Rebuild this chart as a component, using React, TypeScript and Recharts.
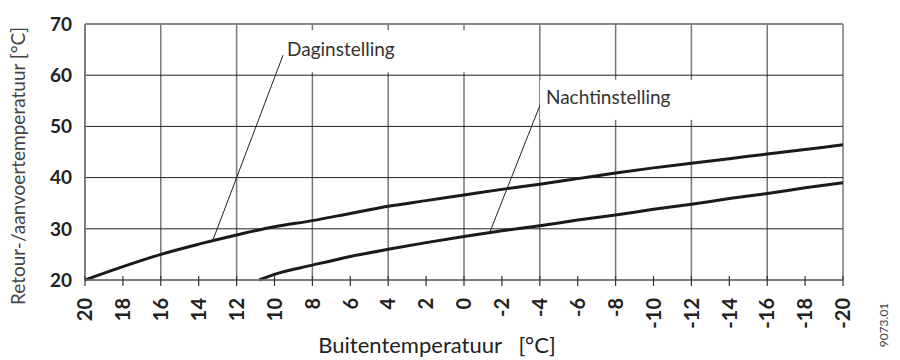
import React from 'react';
import {
  LineChart,
  Line,
  XAxis,
  YAxis,
  CartesianGrid,
  ReferenceLine,
} from 'recharts';

// buitentemperatuur (°C), van +20 naar -20
const buitenTemps = [20, 18, 16, 14, 12, 10, 8, 6, 4, 2, 0, -2, -4, -6, -8, -10, -12, -14, -16, -18, -20];
const dagWaarden = [20, 22.6, 25.0, 27.0, 28.8, 30.4, 31.6, 33.0, 34.4, 35.5, 36.6, 37.7, 38.7, 39.8, 40.9, 41.9, 42.8, 43.7, 44.6, 45.5, 46.4];

const nachtTemps = [10.8, 10, 8, 6, 4, 2, 0, -2, -4, -6, -8, -10, -12, -14, -16, -18, -20];
const nachtWaarden = [20, 21.1, 22.9, 24.6, 26.0, 27.3, 28.5, 29.6, 30.6, 31.7, 32.7, 33.8, 34.8, 35.9, 36.9, 38.0, 39.0];

const yTicks = [20, 30, 40, 50, 60, 70];
const rasterX = [20, 16, 12, 8, 4, 0, -4, -8, -12, -16, -20];

const dagData = buitenTemps.map((t, i) => ({ t, v: dagWaarden[i] }));
const nachtData = nachtTemps.map((t, i) => ({ t, v: nachtWaarden[i] }));

const FONT = 'Lato, "Open Sans", sans-serif';

const XTick = (props: any) => {
  const { x, y, payload } = props;
  return (
    <g>
      <line x1={x} x2={x} y1={y - 4} y2={y + 6} stroke="#333" strokeWidth={1.2} />
      <text
        x={0}
        y={0}
        transform={`translate(${x},${y + 18}) rotate(-90)`}
        textAnchor="end"
        dy="0.36em"
        fontFamily={FONT}
        fontWeight={700}
        fontSize={20}
        fill="#222"
      >
        {payload.value}
      </text>
    </g>
  );
};

// label met witte achtergrond, aan het bovenste eind van de wijslijn
const leaderLabel = (text: string, box: { dx: number; dy: number; w: number; h: number }, tx: number, ty: number) =>
  (props: any) => {
    const vb = props.viewBox;
    const ax = vb.x + vb.width;
    const ay = vb.y;
    return (
      <g>
        <rect x={ax + box.dx} y={ay + box.dy} width={box.w} height={box.h} fill="#fff" />
        <text x={ax + tx} y={ay + ty} fontFamily={FONT} fontSize={19} fill="#333">
          {text}
        </text>
      </g>
    );
  };

export default function App() {
  return (
    <div style={{ position: 'absolute', left: 0, top: 0, width: 900, height: 360, background: '#fff' }}>
      <LineChart width={900} height={360} margin={{ top: 24, right: 57, left: 0, bottom: 0 }}>
        <CartesianGrid horizontal={false} verticalValues={rasterX} stroke="#777" strokeWidth={1.5} />
        <CartesianGrid vertical={false} horizontalValues={yTicks} stroke="#222" strokeWidth={1} />
        <XAxis
          dataKey="t"
          type="number"
          domain={[-20, 20]}
          reversed
          ticks={buitenTemps}
          interval={0}
          allowDataOverflow
          height={80}
          tickSize={0}
          tickMargin={0}
          tickLine={false}
          axisLine={{ stroke: '#777', strokeWidth: 1.5 }}
          tick={<XTick />}
        />
        <YAxis
          type="number"
          domain={[20, 70]}
          ticks={yTicks}
          interval={0}
          width={85}
          tickSize={0}
          tickMargin={13}
          tickLine={false}
          axisLine={{ stroke: '#777', strokeWidth: 1.5 }}
          tick={{ fontFamily: FONT, fontWeight: 700, fontSize: 19, fill: '#222' }}
        />
        <ReferenceLine y={70} stroke="#888" strokeWidth={1.5} />

        <ReferenceLine
          segment={[{ x: 9.55, y: 63.9 }, { x: 13.25, y: 27.8 }]}
          stroke="#222"
          strokeWidth={1}
          label={leaderLabel('Daginstelling', { dx: 2, dy: -25, w: 185, h: 42 }, 4, 1)}
        />
        <ReferenceLine
          segment={[{ x: -4.06, y: 54.6 }, { x: -1.37, y: 29.4 }]}
          stroke="#222"
          strokeWidth={1}
          label={leaderLabel('Nachtinstelling', { dx: -1, dy: -23, w: 160, h: 40 }, 5, 1)}
        />

        <Line
          data={dagData}
          dataKey="v"
          type="monotone"
          stroke="#1a1a1a"
          strokeWidth={3}
          dot={false}
          isAnimationActive={false}
        />
        <Line
          data={nachtData}
          dataKey="v"
          type="monotone"
          stroke="#1a1a1a"
          strokeWidth={3}
          dot={false}
          isAnimationActive={false}
        />

        <text
          transform="translate(25,166) rotate(-90)"
          textAnchor="middle"
          fontFamily={FONT}
          fontSize={19}
          fill="#444"
        >
          Retour-/aanvoertemperatuur [°C]
        </text>
        <text x={437} y={353} textAnchor="middle" fontFamily={FONT} fontSize={22} fill="#222">
          Buitentemperatuur&#160;&#160;&#160;[°C]
        </text>
        <text
          transform="translate(888,325) rotate(-90)"
          textAnchor="middle"
          fontFamily={FONT}
          fontSize={12}
          fill="#444"
        >
          9073.01
        </text>
      </LineChart>
    </div>
  );
}
